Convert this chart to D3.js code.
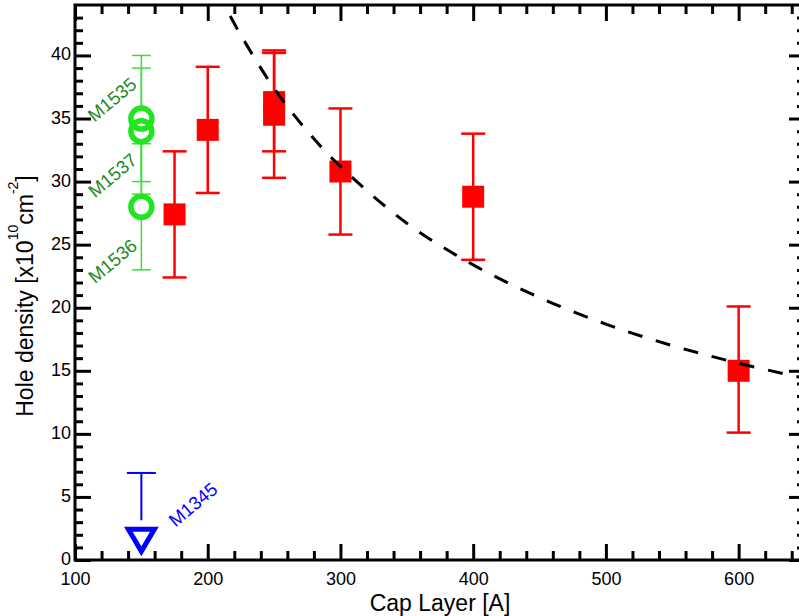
<!DOCTYPE html>
<html>
<head>
<meta charset="utf-8">
<script src="https://cdn.jsdelivr.net/npm/d3@7"></script>
<style>
  html, body { margin: 0; padding: 0; background: #fff; }
  svg { display: block; font-family: "Liberation Sans", Arial, sans-serif; }
</style>
</head>
<body>
<svg id="chart" width="799" height="616"></svg>
<script>
// ---- Data ----
const capLayer    = [175, 200, 250, 250, 300, 400, 600];
const holeDensity = [27.4, 34.1, 35.3, 36.3, 30.8, 28.8, 15.0];
const errLow      = [22.4, 29.1, 30.3, 32.4, 25.8, 23.8, 10.1];
const errHigh     = [32.4, 39.1, 40.2, 40.4, 35.8, 33.8, 20.1];

const greenX      = [150, 150, 150];
const greenY      = [35, 34, 28];
const greenLow    = [30, 29, 23];
const greenHigh   = [40, 39, 33];
const greenLabels = ["M1535", "M1537", "M1536"];
const greenLabelX = [127.9, 128.3, 128.3];
const greenLabelY = [36.5, 30.5, 23.7];

const blueX       = [150];
const blueY       = [1.8];
const blueHigh    = [6.9];
const blueLabels  = ["M1345"];
const blueLabelX  = [188.9];
const blueLabelY  = [4.4];

const fitX = [212, 225, 250, 275, 300, 350, 400, 450, 500, 550, 600, 650];
const fitY = [44.1, 41.6, 37.4, 34.0, 31.2, 26.7, 23.4, 20.8, 18.7, 17.0, 15.6, 14.4];

const xMajorTicks = [100, 200, 300, 400, 500, 600];
const yMajorTicks = [0, 5, 10, 15, 20, 25, 30, 35, 40];

// ---- Layout ----
const svg = d3.select("#chart");
const x = d3.scaleLinear().domain([100, 650]).range([75, 805]);
const y = d3.scaleLinear().domain([0, 44]).range([560, 5]);
const xMinor = d3.range(120, 650, 20).filter(v => v % 100 !== 0);
const yMinor = d3.range(1, 44, 1).filter(v => v % 5 !== 0);

const font = '"Liberation Sans", Arial, sans-serif';

svg.append("defs").append("clipPath").attr("id", "plotclip")
  .append("rect").attr("x", x(100)).attr("y", y(44))
  .attr("width", x(650) - x(100)).attr("height", y(0) - y(44));

// ---- Axes ----
function styleAxis(g) {
  g.select(".domain").remove();
  g.selectAll(".tick line").attr("stroke", "#000").attr("stroke-width", 3);
  g.selectAll(".tick text").attr("fill", "#000").attr("font-size", 18).attr("font-family", font);
}

// bottom
svg.append("g").attr("transform", `translate(0,${y(0)})`)
  .call(d3.axisBottom(x).tickValues(xMajorTicks).tickSize(-16).tickPadding(12.2).tickFormat(d3.format("d")))
  .call(styleAxis);
svg.append("g").attr("transform", `translate(0,${y(0)})`)
  .call(d3.axisBottom(x).tickValues(xMinor).tickSize(-9).tickFormat(""))
  .call(styleAxis);
// top
svg.append("g").attr("transform", `translate(0,${y(44)})`)
  .call(d3.axisTop(x).tickValues(xMajorTicks).tickSize(-16).tickFormat(""))
  .call(styleAxis);
svg.append("g").attr("transform", `translate(0,${y(44)})`)
  .call(d3.axisTop(x).tickValues(xMinor).tickSize(-9).tickFormat(""))
  .call(styleAxis);
// left
const leftAxis = svg.append("g").attr("transform", `translate(${x(100)},0)`)
  .call(d3.axisLeft(y).tickValues(yMajorTicks).tickSize(-16).tickPadding(4).tickFormat(d3.format("d")))
  .call(styleAxis);
leftAxis.selectAll(".tick text").attr("dy", "0.25em");
svg.append("g").attr("transform", `translate(${x(100)},0)`)
  .call(d3.axisLeft(y).tickValues(yMinor).tickSize(-8).tickFormat(""))
  .call(styleAxis);
// right
svg.append("g").attr("transform", `translate(${x(650)},0)`)
  .call(d3.axisRight(y).tickValues(yMajorTicks).tickSize(-16).tickFormat(""))
  .call(styleAxis);
svg.append("g").attr("transform", `translate(${x(650)},0)`)
  .call(d3.axisRight(y).tickValues(yMinor).tickSize(-8).tickFormat(""))
  .call(styleAxis);

// frame
svg.append("rect")
  .attr("x", x(100)).attr("y", y(44))
  .attr("width", x(650) - x(100)).attr("height", y(0) - y(44))
  .attr("fill", "none").attr("stroke", "#000").attr("stroke-width", 3);

// axis titles
svg.append("text")
  .attr("x", (x(100) + x(650)) / 2).attr("y", 610.5)
  .attr("text-anchor", "middle").attr("font-size", 23).attr("font-family", font)
  .text("Cap Layer [A]");

const yt = svg.append("text")
  .attr("transform", "translate(33,296) rotate(-90)")
  .attr("text-anchor", "middle").attr("font-size", 23).attr("font-family", font);
yt.append("tspan").text("Hole density [x10");
yt.append("tspan").attr("font-size", 14).attr("dy", -15).text("10");
yt.append("tspan").attr("dy", 15).text("cm");
yt.append("tspan").attr("font-size", 14).attr("dy", -15).text("-2");
yt.append("tspan").attr("dy", 15).text("]");

const plot = svg.append("g").attr("clip-path", "url(#plotclip)");

// ---- Green points ----
const green = greenX.map((d, i) => ({x: d, y: greenY[i], lo: greenLow[i], hi: greenHigh[i]}));
const gGreen = plot.append("g");
gGreen.selectAll("line.v").data(green).join("line")
  .attr("x1", d => x(d.x)).attr("x2", d => x(d.x))
  .attr("y1", d => y(d.lo)).attr("y2", d => y(d.hi))
  .attr("stroke", "#3ddc3d").attr("stroke-width", 1.5);
gGreen.selectAll("line.capHi").data(green).join("line")
  .attr("x1", d => x(d.x) - 9.5).attr("x2", d => x(d.x) + 9.5)
  .attr("y1", d => y(d.hi)).attr("y2", d => y(d.hi))
  .attr("stroke", "#3ddc3d").attr("stroke-width", 1.5);
gGreen.selectAll("line.capLo").data(green).join("line")
  .attr("x1", d => x(d.x) - 9.5).attr("x2", d => x(d.x) + 9.5)
  .attr("y1", d => y(d.lo)).attr("y2", d => y(d.lo))
  .attr("stroke", "#3ddc3d").attr("stroke-width", 1.5);
gGreen.selectAll("circle.fill").data(green).join("circle")
  .attr("cx", d => x(d.x)).attr("cy", d => y(d.y)).attr("r", 10.5)
  .attr("fill", "#fff");
gGreen.selectAll("circle.ring").data(green).join("circle")
  .attr("cx", d => x(d.x)).attr("cy", d => y(d.y)).attr("r", 10.5)
  .attr("fill", "none").attr("stroke", "#1fe61f").attr("stroke-width", 5.5);

// ---- Blue point ----
const blue = blueX.map((d, i) => ({x: d, y: blueY[i], hi: blueHigh[i]}));
const gBlue = plot.append("g");
gBlue.selectAll("line.v").data(blue).join("line")
  .attr("x1", d => x(d.x)).attr("x2", d => x(d.x))
  .attr("y1", d => y(d.hi)).attr("y2", d => y(d.y) - 17)
  .attr("stroke", "#0000ff").attr("stroke-width", 2);
gBlue.selectAll("line.cap").data(blue).join("line")
  .attr("x1", d => x(d.x) - 14.5).attr("x2", d => x(d.x) + 14.5)
  .attr("y1", d => y(d.hi)).attr("y2", d => y(d.hi))
  .attr("stroke", "#0000ff").attr("stroke-width", 2);
gBlue.selectAll("path.tri").data(blue).join("path")
  .attr("transform", d => `translate(${x(d.x)},${y(d.y)})`)
  .attr("d", "M-13,-8L13,-8L0,14Z")
  .attr("fill", "#fff").attr("stroke", "#0000ff").attr("stroke-width", 5)
  .attr("stroke-linejoin", "miter");

// ---- Red points ----
const red = capLayer.map((d, i) => ({x: d, y: holeDensity[i], lo: errLow[i], hi: errHigh[i]}));
const gRed = plot.append("g");
gRed.selectAll("line.v").data(red).join("line")
  .attr("x1", d => x(d.x)).attr("x2", d => x(d.x))
  .attr("y1", d => y(d.lo)).attr("y2", d => y(d.hi))
  .attr("stroke", "#ff0000").attr("stroke-width", 2.5);
gRed.selectAll("line.capHi").data(red).join("line")
  .attr("x1", d => x(d.x) - 12).attr("x2", d => x(d.x) + 12)
  .attr("y1", d => y(d.hi)).attr("y2", d => y(d.hi))
  .attr("stroke", "#ff0000").attr("stroke-width", 2.5);
gRed.selectAll("line.capLo").data(red).join("line")
  .attr("x1", d => x(d.x) - 12).attr("x2", d => x(d.x) + 12)
  .attr("y1", d => y(d.lo)).attr("y2", d => y(d.lo))
  .attr("stroke", "#ff0000").attr("stroke-width", 2.5);
gRed.selectAll("rect").data(red).join("rect")
  .attr("x", d => x(d.x) - 11).attr("y", d => y(d.y) - 11)
  .attr("width", 22).attr("height", 22)
  .attr("fill", "#ff0000");

// ---- Fit curve ----
const fit = fitX.map((d, i) => ({x: d, y: fitY[i]}));
plot.append("path").datum(fit)
  .attr("d", d3.line().x(d => x(d.x)).y(d => y(d.y)).curve(d3.curveCatmullRom))
  .attr("fill", "none").attr("stroke", "#000").attr("stroke-width", 3)
  .attr("stroke-dasharray", "15,14").attr("stroke-dashoffset", 15);

// ---- Labels ----
const labels = greenLabels.map((t, i) => ({t, x: greenLabelX[i], y: greenLabelY[i], c: "#1e8a1e"}))
  .concat(blueLabels.map((t, i) => ({t, x: blueLabelX[i], y: blueLabelY[i], c: "#0000ff"})));
svg.append("g").selectAll("text").data(labels).join("text")
  .attr("transform", d => `translate(${x(d.x)},${y(d.y)}) rotate(-40)`)
  .attr("text-anchor", "middle").attr("dominant-baseline", "central")
  .attr("font-size", 18.5).attr("font-family", font)
  .attr("fill", d => d.c)
  .text(d => d.t);
</script>
</body>
</html>
